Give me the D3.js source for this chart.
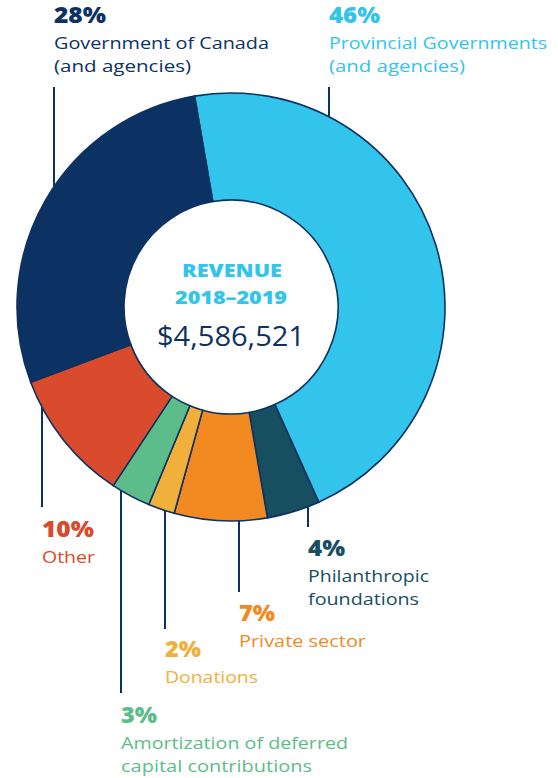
<!DOCTYPE html>
<html>
<head>
<meta charset="utf-8">
<script src="https://cdn.jsdelivr.net/npm/d3@7"></script>
<style>
  html, body { margin: 0; padding: 0; background: #ffffff; }
  svg { display: block; }
  text { font-family: "Open Sans", "Noto Sans", sans-serif; }
</style>
</head>
<body>
<svg id="chart" width="558" height="778"></svg>
<script>
// ---- data ----
const categories = [
  "Provincial Governments (and agencies)",
  "Philanthropic foundations",
  "Private sector",
  "Donations",
  "Amortization of deferred capital contributions",
  "Other",
  "Government of Canada (and agencies)"
];
const values = [46, 4, 7, 2, 3, 10, 28];
const colors = ["#33c4ec", "#174f60", "#f28a21", "#f1b03c", "#5cbd8a", "#da4a2c", "#0c3263"];
const labelLines = [
  ["Provincial Governments", "(and agencies)"],
  ["Philanthropic", "foundations"],
  ["Private sector"],
  ["Donations"],
  ["Amortization of deferred", "capital contributions"],
  ["Other"],
  ["Government of Canada", "(and agencies)"]
];
const centerTitle = ["REVENUE", "2018\u20132019"];
const centerTotal = "$4,586,521";

// ---- layout (positions / widths, not data) ----
const cx = 231, cy = 307, R = 214, r = 107;
const navy = "#0c3263";
const startDeg = -9.8;

const labelPos = [
  { x: 329, lineEnd: 87,  side: "top",    pctY: 23,  pctW: 51, w: [218, 136] },
  { x: 308, lineEnd: 527, side: "bottom", pctY: 556, pctW: 37, w: [121, 111] },
  { x: 239, lineEnd: 592, side: "bottom", pctY: 621, pctW: 36, w: [127] },
  { x: 165, lineEnd: 629, side: "bottom", pctY: 657, pctW: 36, w: [93] },
  { x: 121, lineEnd: 693, side: "bottom", pctY: 723, pctW: 36, w: [227, 191] },
  { x: 42,  lineEnd: 507, side: "bottom", pctY: 537, pctW: 52, w: [53] },
  { x: 54,  lineEnd: 87,  side: "top",    pctY: 23,  pctW: 52, w: [215, 137] }
];

const svg = d3.select("#chart");
const data = categories.map((c, i) => ({ name: c, value: values[i], color: colors[i], lines: labelLines[i], pos: labelPos[i] }));

const pie = d3.pie().sort(null).value(d => d.value)
  .startAngle(startDeg * Math.PI / 180)
  .endAngle(startDeg * Math.PI / 180 + 2 * Math.PI);
const arcs = pie(data);
const arc = d3.arc().innerRadius(r).outerRadius(R);

const g = svg.append("g").attr("transform", `translate(${cx},${cy})`);

data.forEach(d => {
  const x = d.pos.x - cx;
  const yEdge = Math.sqrt(Math.max(0, R * R - x * x));
  const y0 = d.pos.side === "top" ? -yEdge : yEdge;
  g.append("line")
    .attr("x1", x).attr("x2", x)
    .attr("y1", y0).attr("y2", d.pos.lineEnd - cy)
    .attr("stroke", navy).attr("stroke-width", 2);
});

g.selectAll("path.slice").data(arcs).enter().append("path")
  .attr("class", "slice")
  .attr("d", arc)
  .attr("fill", d => d.data.color)
  .attr("stroke", navy)
  .attr("stroke-width", 1.6)
  .attr("stroke-linejoin", "miter");

// center text
const adj = "spacingAndGlyphs";
g.append("text").attr("x", 232 - cx).attr("y", 277 - cy).attr("text-anchor", "middle")
  .attr("fill", "#33c4ec").attr("font-weight", 800).attr("font-size", 17)
  .attr("textLength", 100).attr("lengthAdjust", adj).text(centerTitle[0]);
g.append("text").attr("x", 231 - cx).attr("y", 304 - cy).attr("text-anchor", "middle")
  .attr("fill", "#33c4ec").attr("font-weight", 800).attr("font-size", 17)
  .attr("textLength", 112).attr("lengthAdjust", adj).text(centerTitle[1]);
g.append("text").attr("x", 231 - cx).attr("y", 346 - cy).attr("text-anchor", "middle")
  .attr("fill", navy).attr("font-weight", 400).attr("font-size", 28)
  .attr("textLength", 148).attr("lengthAdjust", adj).text(centerTotal);

// labels
data.forEach(d => {
  const lg = svg.append("g");
  lg.append("text").attr("x", d.pos.x).attr("y", d.pos.pctY)
    .attr("fill", d.color)
    .attr("font-weight", 800).attr("font-size", 22.5)
    .attr("textLength", d.pos.pctW).attr("lengthAdjust", adj)
    .text(d.value + "%");
  d.lines.forEach((ln, j) => {
    lg.append("text").attr("x", d.pos.x).attr("y", d.pos.pctY + 26 + j * 23)
      .attr("fill", d.color).attr("font-size", 17)
      .attr("textLength", d.pos.w[j]).attr("lengthAdjust", adj)
      .text(ln);
  });
});
</script>
</body>
</html>
